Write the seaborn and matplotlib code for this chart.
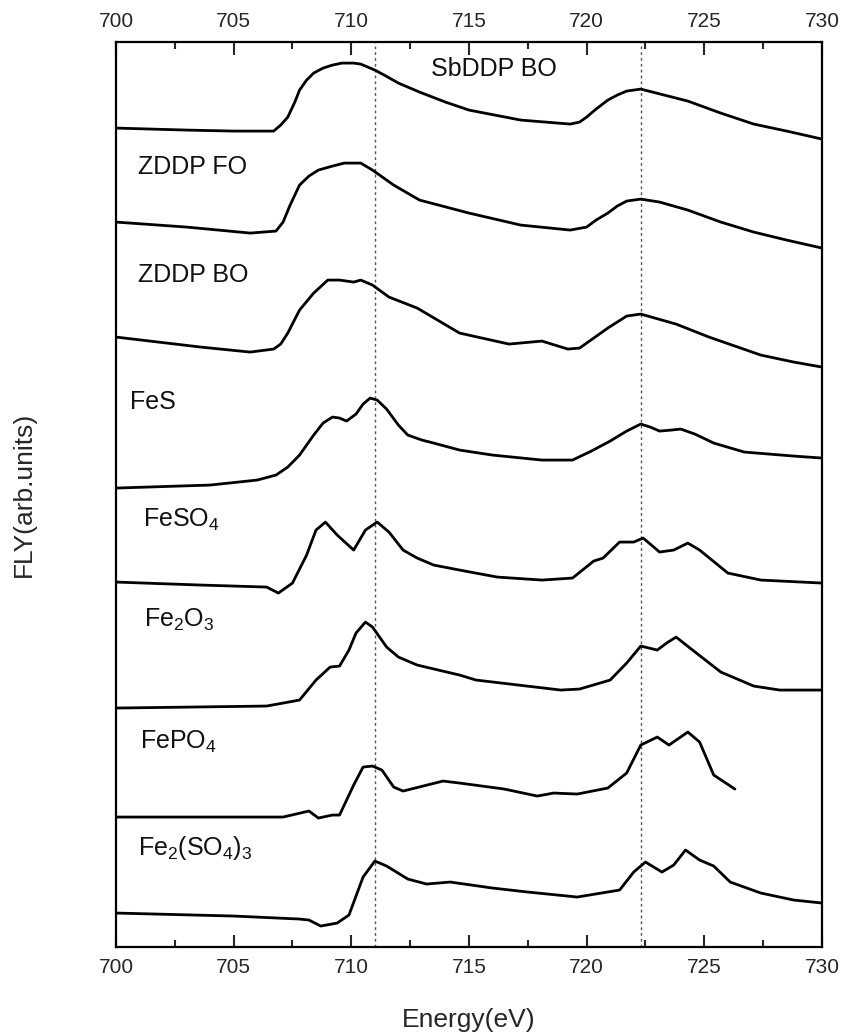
import pandas as pd
import matplotlib
matplotlib.use('Agg')
import matplotlib.pyplot as plt
import seaborn as sns
from matplotlib.ticker import MultipleLocator

# --- spectra (energy in eV, FLY in arb. units) ---
sbddp_bo_e = [700.0, 703.0, 705.0, 706.7, 707.0, 707.3, 707.6, 707.8, 708.1, 708.4, 708.8, 709.2,
              709.6, 710.1, 710.4, 710.7, 711.0, 711.4, 712.0, 712.9, 714.0, 715.0, 717.2, 719.3,
              719.7, 720.0, 720.4, 720.9, 721.3, 721.7, 722.3, 722.8, 724.3, 725.7, 727.1, 728.5,
              730.0]
sbddp_bo_y = [819, 817, 816, 816, 822, 830, 845, 857, 867, 874, 879, 882,
              884, 884, 883, 880, 877, 872, 864, 855, 845, 837, 827, 823,
              825, 830, 838, 847, 852, 856, 858, 855, 846, 834, 823, 816,
              808]

zddp_fo_e = [700.0, 703.0, 705.7, 706.8, 707.1, 707.4, 707.8, 708.2, 708.6, 709.2, 709.7, 710.4,
             710.9, 711.8, 712.9, 715.0, 717.2, 719.3, 720.0, 720.4, 720.9, 721.3, 721.7, 722.3,
             723.1, 724.3, 725.7, 727.1, 728.5, 730.0]
zddp_fo_y = [725, 720, 714, 716, 725, 742, 762, 771, 777, 781, 784, 784,
             777, 762, 747, 734, 722, 717, 720, 727, 734, 741, 746, 748,
             745, 737, 725, 715, 707, 699]

zddp_bo_e = [700.0, 703.6, 705.7, 706.7, 707.0, 707.3, 707.8, 708.4, 709.0, 709.5, 710.1, 710.4,
             710.9, 711.6, 712.8, 714.6, 716.7, 718.1, 719.2, 719.7, 720.3, 720.9, 721.7, 722.3,
             723.8, 725.2, 727.4, 728.8, 730.0]
zddp_bo_y = [610, 600, 595, 598, 603, 614, 637, 654, 667, 667, 665, 667,
             662, 650, 639, 614, 603, 606, 598, 599, 609, 619, 631, 633,
             623, 610, 592, 585, 580]

fes_e = [700.0, 704.0, 706.0, 706.8, 707.3, 707.8, 708.4, 708.8, 709.2, 709.5, 709.8, 710.2,
         710.5, 710.8, 711.1, 711.5, 712.0, 712.4, 713.0, 713.5, 714.6, 716.0, 718.1, 719.4,
         720.2, 721.0, 721.7, 722.3, 722.7, 723.1, 723.6, 724.0, 724.6, 725.4, 726.7, 728.8,
         730.0]
fes_y = [459, 462, 467, 472, 480, 492, 512, 524, 530, 529, 526, 533,
         543, 549, 547, 538, 522, 512, 507, 504, 497, 492, 487, 487,
         496, 506, 516, 523, 520, 516, 517, 518, 513, 504, 495, 491,
         489]

feso4_e = [700.0, 703.6, 706.4, 706.9, 707.5, 708.1, 708.5, 708.9, 709.4, 710.1, 710.6, 711.1,
           711.6, 712.2, 712.8, 713.5, 714.6, 716.2, 718.1, 719.4, 720.3, 720.7, 721.4, 722.0,
           722.4, 723.1, 723.7, 724.3, 724.8, 726.0, 727.4, 730.0]
feso4_y = [365, 362, 360, 354, 364, 392, 417, 425, 412, 397, 417, 425,
           415, 397, 389, 382, 377, 370, 367, 369, 386, 389, 405, 405,
           409, 395, 397, 404, 397, 374, 367, 364]

fe2o3_e = [700.0, 706.4, 707.8, 708.5, 709.1, 709.5, 709.9, 710.2, 710.6, 710.9, 711.5, 712.0,
           712.8, 714.6, 715.3, 718.9, 719.7, 721.0, 721.7, 722.3, 723.0, 723.4, 723.8, 724.5,
           725.7, 727.1, 728.2, 730.0]
fe2o3_y = [239, 241, 247, 267, 280, 281, 297, 314, 325, 320, 300, 290,
           282, 272, 267, 257, 258, 267, 284, 301, 297, 304, 310, 297,
           275, 261, 257, 257]

fepo4_e = [700.0, 707.1, 708.2, 708.6, 709.2, 709.5, 710.1, 710.5, 710.9, 711.3, 711.8, 712.2,
           713.9, 714.6, 716.5, 717.9, 718.6, 719.6, 720.9, 721.7, 722.3, 723.0, 723.5, 724.3,
           724.8, 725.4, 726.3]
fepo4_y = [130, 130, 136, 129, 132, 132, 162, 180, 181, 177, 160, 156,
           166, 164, 158, 151, 154, 153, 159, 174, 202, 210, 202, 215,
           205, 172, 158]

fe2so43_e = [700.0, 705.0, 707.8, 708.2, 708.7, 709.4, 709.9, 710.5, 711.0, 711.5, 712.4, 713.2,
             714.2, 716.0, 717.5, 719.6, 721.4, 722.0, 722.5, 723.2, 723.7, 724.2, 724.8, 725.4,
             726.1, 727.4, 728.8, 730.0]
fe2so43_y = [34, 31, 28, 27, 21, 24, 32, 70, 86, 81, 68, 63,
             65, 59, 55, 50, 57, 75, 85, 75, 82, 97, 87, 81,
             65, 54, 47, 44]

sample_names = ['SbDDP BO', 'ZDDP FO', 'ZDDP BO', 'FeS', 'FeSO4', 'Fe2O3', 'FePO4', 'Fe2(SO4)3']
sample_labels = ['SbDDP BO', 'ZDDP FO', 'ZDDP BO', 'FeS',
                 r'FeSO$_\mathregular{4}$', r'Fe$_\mathregular{2}$O$_\mathregular{3}$',
                 r'FePO$_\mathregular{4}$',
                 r'Fe$_\mathregular{2}$(SO$_\mathregular{4}$)$_\mathregular{3}$']
ref_lines = [711.0, 722.3]

energies = [sbddp_bo_e, zddp_fo_e, zddp_bo_e, fes_e, feso4_e, fe2o3_e, fepo4_e, fe2so43_e]
fly = [sbddp_bo_y, zddp_fo_y, zddp_bo_y, fes_y, feso4_y, fe2o3_y, fepo4_y, fe2so43_y]

frames = []
for name, e, y in zip(sample_names, energies, fly):
    frames.append(pd.DataFrame({'energy': e, 'fly': y, 'sample': name}))
df = pd.concat(frames, ignore_index=True)

sns.set_style('white')
plt.rcParams['font.family'] = ['Liberation Sans', 'DejaVu Sans']
plt.rcParams['mathtext.fontset'] = 'custom'
plt.rcParams['mathtext.rm'] = 'Liberation Sans'

fig = plt.figure(figsize=(8.46, 10.34), dpi=100)
ax = fig.add_axes([0.1371, 0.0841, 0.8345, 0.8752])

sns.lineplot(data=df, x='energy', y='fly', hue='sample', units='sample', estimator=None,
             palette=['black'] * len(sample_names), sort=False, legend=False,
             linewidth=2.0, ax=ax)
for line in ax.get_lines():
    line.set_solid_joinstyle('round')

for xv in ref_lines:
    ax.axvline(xv, color='#555555', lw=1.0, ls=(0, (2, 2.2)), zorder=0)

# sample labels
label_pos = [(713.4, 878), (700.93, 780), (700.93, 672), (700.6, 545),
             (701.15, 427), (701.2, 327), (701.0, 205), (700.93, 99)]
for lab, (xt, yt) in zip(sample_labels, label_pos):
    ax.text(xt, yt, lab, fontsize=18, va='center', ha='left', color='#111111')

ax.set_xlim(700, 730)
ax.set_ylim(0, 905)
ax.xaxis.set_major_locator(MultipleLocator(5))
ax.xaxis.set_minor_locator(MultipleLocator(2.5))
ax.tick_params(axis='x', which='both', direction='in', top=True, bottom=True,
               labeltop=True, labelbottom=True, labelsize=15, pad=8, width=1.5)
ax.tick_params(axis='x', which='major', length=9)
ax.tick_params(axis='x', which='minor', length=5)
ax.set_yticks([])
for sp in ax.spines.values():
    sp.set_linewidth(1.6)
    sp.set_color('black')

ax.set_xlabel('Energy(eV)', fontsize=19, labelpad=22)
ax.set_ylabel('FLY(arb.units)', fontsize=19, labelpad=58)

fig.savefig('out.png', dpi=100)
